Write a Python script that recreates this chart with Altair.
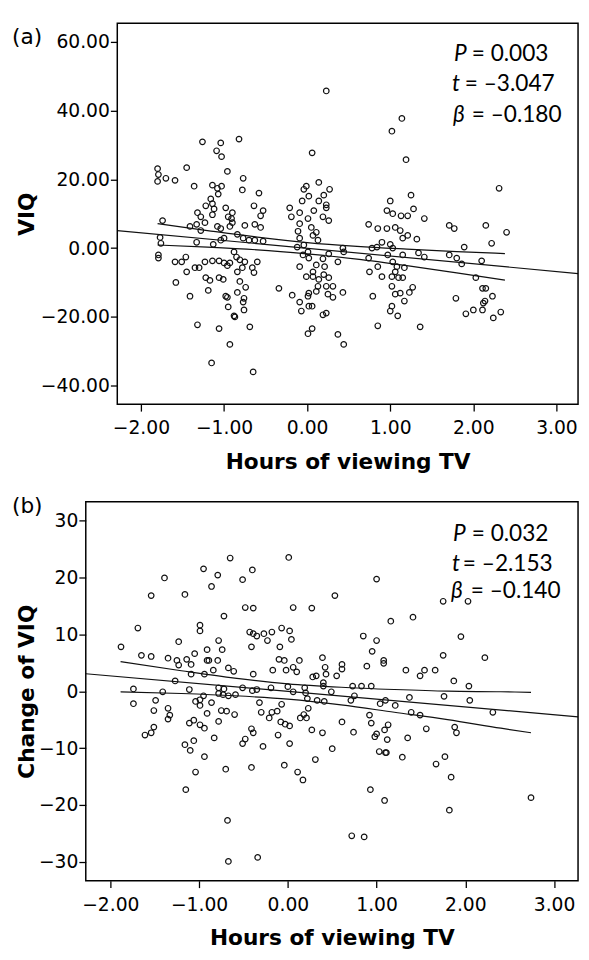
import altair as alt
import pandas as pd

# ---------------- Panel (a): VIQ vs hours of viewing TV ----------------
a_pts_neg1 = [(-1.80, 23.1), (-1.79, 21.4), (-1.80, 19.4), (-1.70, 20.3), (-1.59, 19.7), (-1.45, 23.4),
              (-1.36, 18.0), (-1.26, 30.9), (-1.04, 30.6), (-1.09, 28.3), (-1.03, 26.6), (-0.82, 31.7),
              (-0.96, 22.3), (-0.77, 20.3), (-0.78, 16.9), (-0.58, 16.0), (-1.14, 18.3), (-1.08, 17.4),
              (-1.03, 18.0), (-1.07, 15.7), (-1.16, 14.3), (-1.14, 12.9), (-1.22, 12.3), (-1.12, 11.4),
              (-0.98, 11.7), (-0.64, 12.3), (-0.53, 10.9), (-0.56, 9.4), (-1.32, 10.3), (-1.28, 9.1),
              (-1.14, 9.7), (-0.95, 9.1), (-0.90, 10.3), (-0.91, 8.6), (-0.21, 11.7), (-0.19, 9.1),
              (-1.74, 8.0),
              (-1.41, 6.3), (-1.33, 6.9), (-1.28, 5.1), (-1.23, 7.4), (-1.08, 6.3), (-1.04, 5.7),
              (-0.93, 6.3), (-0.90, 7.4), (-0.75, 6.6), (-0.63, 6.9), (-0.56, 6.0), (-0.84, 4.0),
              (-0.77, 2.9), (-0.70, 2.3), (-0.63, 2.3), (-0.53, 2.0), (-1.00, 2.9), (-1.04, 2.3),
              (-1.13, 1.1), (-1.33, 1.7), (-1.77, 3.1), (-1.76, 1.4), (-1.79, -2.0), (-1.79, -2.9),
              (-1.59, -4.0), (-1.51, -4.0), (-1.46, -2.6), (-1.45, -6.9), (-1.35, -5.7), (-1.30, -5.7),
              (-1.23, -4.0), (-1.14, -3.7), (-1.06, -3.7), (-1.00, -4.3), (-0.96, -5.1), (-0.93, -4.3),
              (-0.88, -1.1), (-0.85, -2.6), (-0.81, -3.4), (-0.75, -4.0), (-0.78, -5.7), (-0.84, -6.9),
              (-0.60, -4.0), (-0.66, -5.7), (-0.64, -7.1), (-1.58, -10.0), (-1.22, -8.6), (-1.17, -9.4),
              (-1.06, -8.6), (-1.01, -9.1), (-0.81, -9.7), (-0.74, -11.4), (-0.84, -12.9), (-1.19, -12.3),
              (-1.41, -14.0), (-0.98, -14.0), (-0.96, -14.3), (-0.76, -14.6), (-0.77, -15.7), (-0.95, -17.1),
              (-0.76, -18.0), (-0.88, -19.7), (-0.87, -20.0), (-1.32, -22.3), (-1.06, -23.4), (-0.69, -22.9),
              (-0.93, -28.0), (-1.15, -33.4), (-0.65, -36.0), (-0.34, -11.7), (-0.18, -13.7)]

a_pts_zero = [(0.23, 45.7), (0.06, 27.7), (-0.01, 18.0), (-0.04, 17.1), (0.14, 19.1), (0.27, 17.1),
              (0.02, 15.1), (-0.06, 13.7), (0.20, 15.4), (0.14, 13.7), (0.23, 12.6),
              (-0.09, 10.3), (0.01, 8.6), (0.08, 10.9), (0.19, 9.1), (0.23, 11.7), (0.26, 8.0),
              (-0.09, 7.1), (0.05, 6.0), (-0.11, 4.9), (0.11, 4.6), (0.07, 3.7), (0.13, 2.3),
              (-0.09, 2.9), (-0.12, 0.3), (-0.04, 0.9), (0.01, -1.1), (-0.05, -2.0), (0.02, -2.9),
              (-0.09, -5.4), (0.11, -4.9), (0.19, -3.1), (0.21, -5.4), (0.26, -1.7), (0.37, -4.0),
              (0.43, 0.0), (0.44, -1.1), (0.07, -6.9), (-0.01, -8.3), (0.07, -8.3), (0.14, -9.1),
              (0.20, -7.7), (0.26, -8.6), (0.13, -11.1), (0.23, -11.1), (0.31, -11.1), (0.02, -13.1),
              (0.11, -12.6), (0.01, -14.0), (0.25, -13.4), (0.31, -14.3), (0.43, -12.9), (-0.09, -15.7),
              (-0.07, -18.3), (0.02, -16.9), (0.06, -16.9), (0.19, -19.4), (0.23, -18.9), (0.01, -24.9),
              (0.06, -23.4), (0.37, -25.1), (0.44, -28.0)]

a_pts_one = [(1.02, 34.0), (1.14, 37.7), (1.19, 25.7), (1.00, 13.7), (1.25, 15.4),
             (0.74, 6.9), (0.85, 5.7), (0.96, 5.7), (1.06, 6.0), (1.12, 5.1), (1.21, 3.7),
             (1.15, 2.9), (1.32, 2.6), (1.41, 8.6), (0.96, 10.9), (1.03, 10.0), (1.13, 9.4),
             (1.21, 9.4), (1.28, 11.4), (0.90, 1.7), (1.00, 1.1), (1.03, 0.0), (0.78, 0.0),
             (0.74, -2.9), (0.84, 0.3), (0.97, -2.0), (1.15, -2.0), (1.03, -4.0), (1.08, -5.4),
             (1.17, -5.7), (0.75, -6.9), (0.85, -5.4), (0.90, -8.3), (1.02, -8.3), (1.06, -6.9),
             (1.10, -8.6), (1.15, -8.6), (1.02, -11.1), (1.06, -13.4), (1.12, -13.1), (1.23, -12.9),
             (1.27, -11.4), (1.17, -15.4), (0.79, -14.0), (1.02, -16.9), (1.00, -18.3), (1.09, -19.7),
             (0.85, -22.6), (1.36, -22.9), (1.34, -1.4), (1.41, -2.6)]

a_pts_two = [(2.31, 17.4), (1.71, 6.6), (1.77, 5.7), (2.15, 6.6), (2.40, 4.6), (2.22, 1.4),
             (1.89, 0.3), (1.71, -2.0), (1.80, -2.9), (1.86, -4.6), (2.10, -3.7), (2.03, -8.6),
             (2.11, -11.7), (2.15, -11.7), (2.23, -14.0), (1.79, -14.6), (2.14, -15.4), (2.12, -16.0),
             (1.91, -19.1), (2.00, -18.0), (2.11, -18.0), (2.24, -20.3), (2.33, -18.6)]

a_fit_x = [-2.285, 3.26]
a_fit_y = [5.1, -7.4]
a_ci_x = [-1.8, -1.2, -0.6, 0.0, 0.6, 1.2, 1.8, 2.38]
a_ci_hi = [7.1, 5.1, 3.2, 1.6, 0.5, -0.3, -1.0, -1.6]
a_ci_lo = [0.9, 0.3, -0.5, -1.7, -3.2, -5.1, -7.2, -9.3]
a_stats_sym = ["P", "t", "β"]
a_stats_val = ["= 0.003", "= –3.047", "= –0.180"]

# ---------------- Panel (b): change of VIQ ----------------
b_pts_left = [(-1.88, 7.8), (-1.69, 11.1), (-1.65, 6.3), (-1.54, 6.1), (-1.54, 16.8), (-1.39, 19.9),
              (-1.23, 8.7), (-1.16, 17.0), (-1.35, 5.8), (-1.25, 5.4), (-1.23, 4.6), (-1.14, 5.6),
              (-1.09, 4.7), (-1.05, 6.6), (-0.99, 11.6), (-0.99, 10.6), (-0.95, 21.5), (-0.86, 18.4),
              (-0.79, 20.4), (-0.91, 7.3), (-0.91, 5.4), (-0.89, 5.4), (-0.79, 5.4), (-0.78, 8.9),
              (-0.74, 7.3), (-0.72, 13.2), (-0.65, 23.4), (-0.51, 19.6), (-0.84, 3.7), (-0.94, 3.0),
              (-0.67, 4.1), (-0.61, 3.5), (-1.27, 1.8), (-1.09, 3.0), (-1.74, 0.4), (-1.41, -0.1),
              (-1.11, 0.3), (-0.78, 0.6), (-0.72, 0.4), (-0.51, 0.6)]

b_pts_mid = [(-0.40, 21.3), (-0.48, 14.7), (-0.39, 14.6), (-0.43, 10.4), (-0.39, 10.1), (-0.41, 7.8),
             (-0.35, 9.7), (-0.27, 10.1), (-0.23, 8.9), (-0.18, 10.4), (-0.07, 11.1), (0.02, 10.6),
             (0.04, 9.1), (0.01, 23.5), (0.06, 14.7), (-0.09, 7.8), (-0.10, 5.6), (-0.04, 5.4),
             (-0.02, 3.7), (0.06, 4.2), (-0.39, 3.0), (-0.17, 3.7), (-0.35, 0.3), (-0.40, 0.1),
             (-0.19, 0.6), (0.00, 0.8)]

b_pts_left_low = [(-1.74, -2.2), (-1.49, -1.6), (-1.51, -3.4), (-1.35, -3.0), (-1.35, -4.9), (-1.33, -4.2),
                  (-1.61, -7.7), (-1.54, -7.3), (-1.51, -6.3), (-1.11, -5.6), (-1.06, -5.1), (-1.04, -1.8),
                  (-0.99, -1.5), (-0.95, -0.8), (-0.99, -2.5), (-0.86, -2.0), (-0.91, -3.9), (-0.99, -5.9),
                  (-0.94, -6.5), (-1.16, -9.4), (-1.10, -10.4), (-1.06, -8.7), (-1.04, -14.2), (-0.94, -11.5),
                  (-0.83, -8.2), (-0.78, -5.3), (-0.75, -3.4), (-0.69, -3.5), (-0.60, -4.1), (-0.78, -0.4),
                  (-0.73, -0.6), (-0.67, -0.8), (-0.59, -0.6), (-0.70, -13.7), (-0.68, -22.7), (-0.67, -29.9),
                  (-1.15, -17.3), (-0.51, -9.2), (-0.48, -8.4), (-0.41, -6.6), (-0.39, -7.3), (-0.41, -13.4),
                  (-0.34, -29.2), (-0.32, -2.0), (-0.30, -3.7), (-0.28, -9.7), (-0.21, -4.7), (-0.18, -3.7),
                  (-0.12, -3.5), (-0.07, -2.3), (-0.08, -5.4), (-0.11, -7.7), (-0.03, -5.8), (-0.04, -13.0),
                  (0.02, -6.1), (0.02, -9.2)]

b_pts_right = [(1.00, 19.7), (0.53, 16.8), (0.27, 14.6), (1.16, 12.3), (1.41, 13.0), (1.75, 15.8),
               (2.03, 15.8), (1.95, 9.6), (2.22, 5.9), (1.75, 6.3), (1.87, 1.8), (2.04, 0.9),
               (0.13, 5.4), (0.10, 3.4), (0.85, 9.7), (1.00, 8.9), (0.95, 7.0), (1.08, 5.4),
               (1.08, 4.9), (0.89, 4.4), (0.39, 5.9), (0.42, 4.2), (0.43, 3.0), (0.61, 4.7),
               (0.61, 3.9), (0.55, 2.7), (0.28, 2.5), (0.32, 2.7), (0.40, 1.5), (0.40, 0.9),
               (1.33, 3.7), (1.49, 2.7), (1.54, 3.7), (1.66, 3.7), (0.19, 0.6), (0.73, 0.9),
               (0.83, 0.9), (0.94, 0.9)]

b_pts_right_low = [(0.06, -0.1), (0.20, -0.3), (0.49, -0.1), (0.75, -0.8), (0.71, -1.6), (1.37, -1.1),
                   (1.76, -0.9), (1.10, -1.6), (2.05, -1.6), (1.04, -2.2), (1.21, -2.5), (0.33, -1.6),
                   (0.41, -1.8), (0.22, -1.3), (0.14, -4.7), (0.18, -4.1), (0.21, -4.7), (0.23, -3.0),
                   (0.27, -6.8), (0.39, -7.3), (0.50, -10.1), (0.31, -12.0), (0.11, -14.2), (0.17, -15.6),
                   (0.61, -5.4), (0.74, -7.2), (0.92, -4.2), (0.94, -5.6), (0.98, -8.0), (1.00, -7.5),
                   (1.09, -6.8), (1.13, -5.9), (1.12, -8.5), (1.03, -10.6), (1.10, -10.8), (1.11, -10.8),
                   (0.93, -17.3), (1.09, -19.2), (0.72, -25.4), (0.86, -25.6), (1.39, -3.7), (1.49, -4.2),
                   (1.35, -8.2), (1.29, -11.6), (1.56, -6.6), (1.67, -12.8), (1.77, -11.5), (1.84, -15.1),
                   (1.88, -6.3), (1.90, -7.3), (1.82, -20.9), (2.31, -3.7), (2.74, -18.7)]

b_fit_x = [-2.277, 3.27]
b_fit_y = [3.07, -4.5]
b_ci_x = [-1.885, -1.2, -0.6, 0.0, 0.6, 1.2, 1.8, 2.4, 2.74]
b_ci_hi = [5.2, 3.6, 2.3, 1.3, 0.7, 0.3, 0.0, -0.1, -0.2]
b_ci_lo = [-0.1, -0.4, -0.8, -1.4, -2.4, -3.7, -5.0, -6.5, -7.3]
b_stats_sym = ["P", "t", "β"]
b_stats_val = ["= 0.032", "= –2.153", "= –0.140"]

x_ticks = [-2, -1, 0, 1, 2, 3]
a_y_ticks = [-40, -20, 0, 20, 40, 60]
b_y_ticks = [-30, -20, -10, 0, 10, 20, 30]

INK = "#111111"
W = 500  # common group width of both panels


def pts_df(*groups):
    rows = [p for g in groups for p in g]
    return pd.DataFrame({"x": [r[0] for r in rows], "y": [r[1] for r in rows]})


def panel(pts, fit_x, fit_y, ci_x, ci_hi, ci_lo, xdom, ydom, yticks, yfmt, ytitle,
          title_x, syms, vals, sym_pos, label, label_pos, left, h):
    # the plotted frame spans [left, W] inside a group of width W
    xenc = alt.X("x:Q", scale=alt.Scale(domain=xdom, nice=False, zero=False, range=[left, W]),
                 axis=alt.Axis(values=x_ticks, format=".2f", title="Hours of viewing TV",
                               labelPadding=8, titleY=48, labelFlush=False, labelOverlap=False))
    yenc = alt.Y("y:Q", scale=alt.Scale(domain=ydom, nice=False, zero=False),
                 axis=alt.Axis(values=yticks, format=yfmt, title=ytitle, labelPadding=1,
                               offset=-left, titleX=title_x, labelFlush=False, labelOverlap=False))
    one = alt.Data(values=[{"k": 0}])
    frame = alt.Chart(one).mark_rect(fillOpacity=0, stroke="black", strokeWidth=1.5).encode(
        x=alt.value(left), x2=alt.value(W), y=alt.value(0), y2=alt.value(h))
    points = alt.Chart(pts).mark_point(shape="circle", filled=False, size=32,
                                       strokeWidth=1.2, color=INK, opacity=1).encode(x=xenc, y=yenc)
    fit = alt.Chart(pd.DataFrame({"x": fit_x, "y": fit_y})).mark_line(
        color=INK, strokeWidth=1.2).encode(x=xenc, y=yenc)
    hi = alt.Chart(pd.DataFrame({"x": ci_x, "y": ci_hi})).mark_line(
        color=INK, strokeWidth=1.2, interpolate="monotone").encode(x=xenc, y=yenc)
    lo = alt.Chart(pd.DataFrame({"x": ci_x, "y": ci_lo})).mark_line(
        color=INK, strokeWidth=1.2, interpolate="monotone").encode(x=xenc, y=yenc)
    layers = [points, fit, hi, lo, frame]
    for s, v, (sx, vx, yb) in zip(syms, vals, sym_pos):
        layers.append(alt.Chart(one).mark_text(text=s, font="Lato", fontSize=23, fontStyle="italic",
                                               align="left", baseline="alphabetic", color="black")
                      .encode(x=alt.value(sx), y=alt.value(yb)))
        layers.append(alt.Chart(one).mark_text(text=v, font="Lato", fontSize=23,
                                               align="left", baseline="alphabetic", color="black")
                      .encode(x=alt.value(vx), y=alt.value(yb)))
    layers.append(alt.Chart(one).mark_text(
        text=label, font="DejaVu Sans", fontSize=22, align="left", baseline="alphabetic", color="black")
        .encode(x=alt.value(label_pos[0]), y=alt.value(label_pos[1])))
    return alt.layer(*layers).properties(width=W, height=h,
                                         view=alt.ViewBackground(strokeOpacity=0))


pa = panel(pts_df(a_pts_neg1, a_pts_zero, a_pts_one, a_pts_two), a_fit_x, a_fit_y, a_ci_x, a_ci_hi, a_ci_lo,
           [-2.285, 3.26], [-45.4, 65.4], a_y_ticks, ".2f", "VIQ", -80.4,
           a_stats_sym, a_stats_val, [(374, 392, 38), (372, 385, 69), (373, 392, 100)],
           "(a)", (-75, 21), 32, 387)

pb = panel(pts_df(b_pts_left, b_pts_mid, b_pts_left_low, b_pts_right, b_pts_right_low),
           b_fit_x, b_fit_y, b_ci_x, b_ci_hi, b_ci_lo,
           [-2.277, 3.27], [-33.3, 33.3], b_y_ticks, "d", "Change of VIQ", -48.4,
           b_stats_sym, b_stats_val, [(373, 392, 40), (372, 383, 70), (371, 391, 98)],
           "(b)", (-75, 11), 0, 385)

chart = alt.vconcat(pa, pb, spacing=23).properties(
    padding={"left": 4, "top": 7, "right": 0, "bottom": 0},
    background="white"
).configure_view(
    strokeOpacity=0
).configure_axis(
    domain=False, grid=False, ticks=True, tickColor="black", tickWidth=1.3, tickSize=7,
    labelFont="DejaVu Sans", labelFontSize=19, labelColor="black",
    titleFont="DejaVu Sans", titleFontSize=22, titleFontWeight="bold", titleColor="black"
)

chart.save("out.html", embed_options={"renderer": "svg", "actions": False})
